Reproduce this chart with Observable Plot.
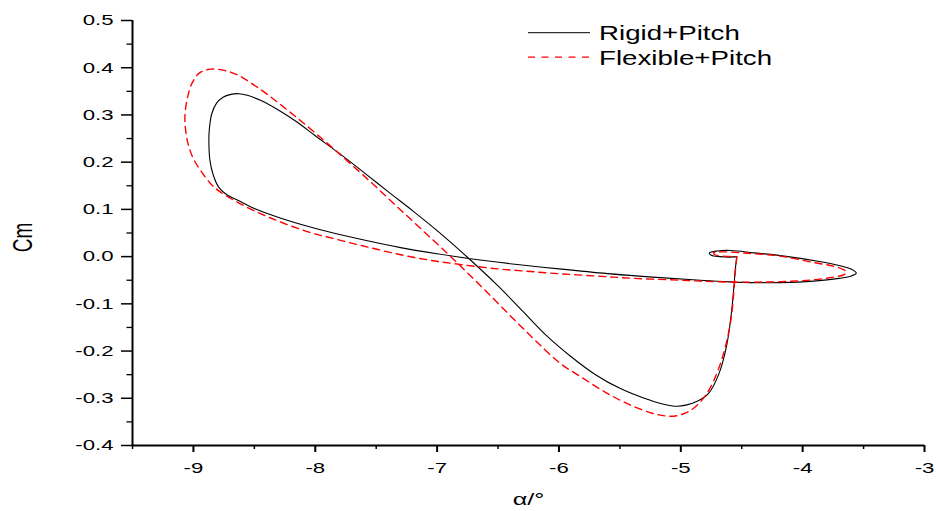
<!DOCTYPE html>
<html><head><meta charset="utf-8">
<script src="https://cdn.jsdelivr.net/npm/d3@7"></script>
<script src="https://cdn.jsdelivr.net/npm/@observablehq/plot@0.6"></script>
<style>
html,body{margin:0;padding:0;background:#fff;}
#wrap{position:relative;width:936px;height:511px;font-family:"Liberation Sans",Arial,sans-serif;}
</style></head><body><div id="wrap"></div>
<script>
const seriesNames = ["Rigid+Pitch", "Flexible+Pitch"];
const xTitle = "α/°";
const yTitle = "Cm";
const xMajorTicks = [-9, -8, -7, -6, -5, -4, -3];
const xMinorTicks = [-9.5, -8.5, -7.5, -6.5, -5.5, -4.5, -3.5];
const yMajorTicks = [-0.4, -0.3, -0.2, -0.1, 0.0, 0.1, 0.2, 0.3, 0.4, 0.5];
const yMinorTicks = [-0.35, -0.25, -0.15, -0.05, 0.05, 0.15, 0.25, 0.35, 0.45];

const rigidAlpha = [-4.54,-4.552,-4.563,-4.585,-4.625,-4.69,-4.77,-4.87,-4.95,-5.03,-5.15,-5.3,-5.5,-5.7,-5.9,-6.1,-6.3,-6.5,-6.74,-7.0,-7.2,-7.4,-7.6,-7.8,-8.0,-8.15,-8.3,-8.45,-8.55,-8.63,-8.7,-8.76,-8.81,-8.85,-8.87,-8.873,-8.865,-8.84,-8.79,-8.72,-8.64,-8.5,-8.3,-8.1,-7.9,-7.6,-7.3,-7.0,-6.74,-6.4,-6.0,-5.6,-5.2,-4.84,-4.56,-4.18,-3.91,-3.7,-3.6,-3.56,-3.6,-3.7,-3.85,-4.18,-4.4,-4.59,-4.7,-4.765,-4.75,-4.68,-4.6,-4.54];
const rigidCm = [0.0,-0.025,-0.06,-0.12,-0.19,-0.25,-0.289,-0.307,-0.314,-0.317,-0.312,-0.3,-0.279,-0.25,-0.212,-0.168,-0.115,-0.062,-0.004,0.055,0.097,0.137,0.178,0.218,0.256,0.285,0.31,0.331,0.341,0.345,0.343,0.337,0.325,0.302,0.268,0.239,0.205,0.175,0.146,0.13,0.12,0.102,0.083,0.067,0.053,0.035,0.019,0.006,-0.004,-0.015,-0.026,-0.036,-0.044,-0.05,-0.054,-0.055,-0.052,-0.046,-0.041,-0.035,-0.027,-0.019,-0.011,0.002,0.008,0.013,0.012,0.008,0.003,0.0,-0.001,0.0];

const flexAlpha = [-4.54,-4.552,-4.562,-4.59,-4.65,-4.73,-4.8,-4.88,-4.96,-5.06,-5.2,-5.4,-5.6,-5.8,-6.0,-6.2,-6.4,-6.6,-6.8,-7.0,-7.2,-7.4,-7.6,-7.8,-8.0,-8.15,-8.3,-8.45,-8.64,-8.76,-8.86,-8.95,-9.01,-9.05,-9.07,-9.06,-9.04,-9.0,-8.94,-8.86,-8.78,-8.5,-8.09,-7.8,-7.55,-7.3,-7.05,-6.8,-6.5,-6.26,-6.07,-5.7,-5.39,-5.0,-4.84,-4.56,-4.18,-3.91,-3.74,-3.66,-3.64,-3.67,-3.75,-3.9,-4.18,-4.45,-4.65,-4.73,-4.72,-4.65,-4.56,-4.54];
const flexCm = [0.0,-0.03,-0.065,-0.136,-0.206,-0.263,-0.295,-0.318,-0.331,-0.338,-0.334,-0.316,-0.29,-0.258,-0.224,-0.176,-0.125,-0.073,-0.022,0.027,0.075,0.123,0.171,0.217,0.262,0.294,0.325,0.354,0.385,0.395,0.397,0.389,0.368,0.335,0.295,0.26,0.235,0.207,0.182,0.155,0.137,0.097,0.055,0.035,0.019,0.004,-0.008,-0.017,-0.026,-0.031,-0.035,-0.041,-0.046,-0.05,-0.052,-0.054,-0.053,-0.049,-0.043,-0.038,-0.033,-0.027,-0.02,-0.013,0.001,0.007,0.01,0.008,0.004,0.001,0.0,0.0];

const rigid = rigidAlpha.map((a, i) => ({alpha: a, cm: rigidCm[i]}));
const flex = flexAlpha.map((a, i) => ({alpha: a, cm: flexCm[i]}));

const FONT = '"Liberation Sans", Arial, sans-serif';
const S = 1.48;

const plot = Plot.plot({
  width: 936, height: 511,
  marginLeft: 132, marginRight: 12, marginTop: 20, marginBottom: 66,
  x: {domain: [-9.5, -3], label: null},
  y: {domain: [-0.4, 0.5], label: null},
  style: {fontFamily: FONT, fontSize: "15px", color: "black", background: "white"},
  marks: [
    Plot.axisX({ticks: xMinorTicks, tickSize: 4, strokeWidth: 1.5, tickFormat: () => ""}),
    Plot.axisX({ticks: xMajorTicks, tickSize: 7, tickPadding: 10, strokeWidth: 2, tickFormat: d => String(d)}),
    Plot.axisY({ticks: yMinorTicks, tickSize: 5.5, strokeWidth: 1.3, tickFormat: () => ""}),
    Plot.axisY({ticks: yMajorTicks, tickSize: 11, tickPadding: 8, strokeWidth: 1.5, tickFormat: d => d.toFixed(1)}),
    Plot.ruleY([-0.4], {strokeWidth: 1.8}),
    Plot.ruleX([-9.5], {strokeWidth: 2}),
    Plot.line(rigid, {x: "alpha", y: "cm", stroke: "black", strokeWidth: 1.1, curve: "catmull-rom"}),
    Plot.line(flex, {x: "alpha", y: "cm", stroke: "#ff0000", strokeWidth: 1.4, strokeDasharray: "7,5", curve: "catmull-rom"}),
    Plot.text([xTitle], {text: d => d, frameAnchor: "bottom", lineAnchor: "middle", textAnchor: "middle", dy: 54.5, fontSize: 17}),
    Plot.text([yTitle], {text: d => d, frameAnchor: "left", lineAnchor: "middle", textAnchor: "middle", dx: -110, dy: 4.5, rotate: -90, fontSize: 19})
  ]
});

const wrap = document.getElementById("wrap");
wrap.appendChild(plot);

// widen the glyphs horizontally like the reference, around each label's own anchor
const NS = "http://www.w3.org/2000/svg";
Array.from(plot.querySelectorAll("text")).forEach(txt => {
  if (!txt.textContent) return;
  const g = document.createElementNS(NS, "g");
  txt.parentNode.insertBefore(g, txt);
  g.appendChild(txt);
  const bb = g.getBBox();
  const rotated = (txt.getAttribute("transform") || "").includes("rotate");
  const anchor = getComputedStyle(txt).textAnchor;
  let ax = bb.x + bb.width / 2;
  if (!rotated && anchor === "end") ax = bb.x + bb.width;
  else if (!rotated && anchor === "start") ax = bb.x;
  g.setAttribute("transform", `translate(${ax},0) scale(${S},1) translate(${-ax},0)`);
});

const legendEntries = [
  {name: seriesNames[0], stroke: "black", dash: null, width: 1},
  {name: seriesNames[1], stroke: "#ff0000", dash: "7,6.5", width: 1.3}
];
const ov = d3.create("svg").attr("width", 936).attr("height", 511)
  .style("position", "absolute").style("left", "0px").style("top", "0px")
  .style("pointer-events", "none").attr("font-family", FONT);
legendEntries.forEach((e, i) => {
  const y = 32.7 + i * 24.5;
  ov.append("line").attr("x1", 528).attr("x2", 590).attr("y1", y).attr("y2", y)
    .attr("stroke", e.stroke).attr("stroke-width", e.width).attr("stroke-dasharray", e.dash);
  ov.append("text").attr("transform", `translate(599,${y + 7.3}) scale(1.42,1)`)
    .attr("font-size", 19.5).attr("fill", "black").text(e.name);
});
wrap.appendChild(ov.node());
</script>
</body></html>
